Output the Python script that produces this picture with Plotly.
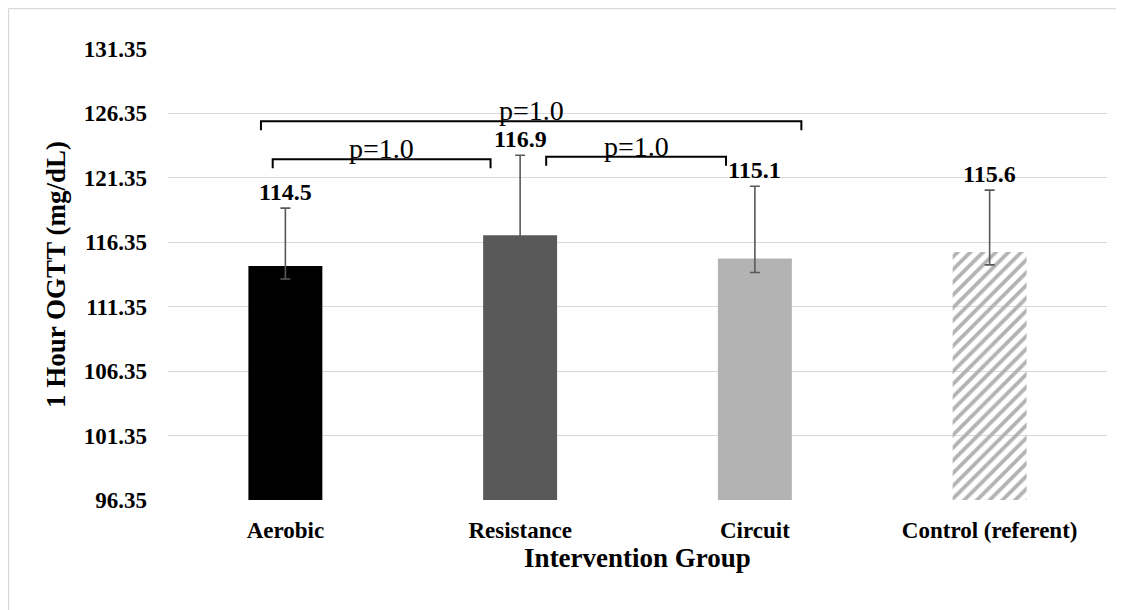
import plotly.graph_objects as go

# ---- data ----
categories = ["Aerobic", "Resistance", "Circuit", "Control (referent)"]
means = [114.5, 116.9, 115.1, 115.6]
err_plus = [4.5, 6.2, 5.6, 4.8]
err_minus = [1.0, 1.0, 1.1, 1.0]
value_labels = ["114.5", "116.9", "115.1", "115.6"]
y_ticks = [96.35, 101.35, 106.35, 111.35, 116.35, 121.35, 126.35, 131.35]
bracket_pairs = [("Aerobic", "Resistance"), ("Aerobic", "Circuit"), ("Resistance", "Circuit")]
bracket_levels = [122.8, 125.75, 122.98]
bracket_texts = ["p=1.0", "p=1.0", "p=1.0"]

# ---- style ----
bar_colors = ["#000000", "#595959", "#b3b3b3", "#b3b3b3"]
pattern_shapes = ["", "", "", "/"]
# bracket end offsets (category units) relative to the paired categories
bracket_offsets = [(-0.054, -0.126), (-0.104, 0.198), (0.111, -0.123)]
tick_drop = 0.7
FONT = "Times New Roman, Liberation Serif, serif"

fig = go.Figure()
fig.add_trace(go.Bar(
    x=categories, y=[m - y_ticks[0] for m in means], base=y_ticks[0],
    marker=dict(color=bar_colors, line=dict(width=0),
                pattern=dict(shape=pattern_shapes, fgcolor="#b3b3b3", bgcolor="#ffffff",
                             size=9, solidity=0.42, fillmode="replace")),
    error_y=dict(type="data", symmetric=False, array=err_plus, arrayminus=err_minus,
                 color="#595959", thickness=1.6, width=5),
    hoverinfo="skip", showlegend=False,
))

annotations = []
for c, m, e, t in zip(categories, means, err_plus, value_labels):
    annotations.append(dict(x=c, y=m + e, xref="x", yref="y", text=f"<b>{t}</b>",
                            showarrow=False, yanchor="bottom", yshift=1,
                            font=dict(family=FONT, size=24, color="#000000")))

shapes = []
for (a, b), lvl, txt, (oa, ob) in zip(bracket_pairs, bracket_levels, bracket_texts, bracket_offsets):
    x0 = categories.index(a) + oa
    x1 = categories.index(b) + ob
    shapes.append(dict(type="path", xref="x", yref="y",
                       path=f"M {x0},{lvl - tick_drop} L {x0},{lvl} L {x1},{lvl} L {x1},{lvl - tick_drop}",
                       line=dict(color="#000000", width=2)))
    annotations.append(dict(x=(x0 + x1) / 2, y=lvl, xref="x", yref="y", text=txt,
                            showarrow=False, yanchor="bottom", yshift=-7,
                            font=dict(family=FONT, size=28, color="#000000")))

# outer chart border (top and left edges of the chart area)
shapes.append(dict(type="line", xref="paper", yref="paper", x0=-0.1699, x1=1.03, y0=1.0898, y1=1.0898,
                   line=dict(color="#d9d9d9", width=1.5)))
shapes.append(dict(type="line", xref="paper", yref="paper", x0=-0.1699, x1=-0.1699, y0=1.0898, y1=-0.27,
                   line=dict(color="#d9d9d9", width=1.5)))

fig.update_layout(
    width=1124, height=610,
    margin=dict(l=160, r=25, t=41, b=118),
    paper_bgcolor="#ffffff", plot_bgcolor="#ffffff",
    bargap=0.685,
    font=dict(family=FONT, color="#000000"),
    annotations=annotations,
    shapes=shapes,
    xaxis=dict(
        type="category", range=[-0.5, 3.5],
        showgrid=False, showline=False, zeroline=False,
        tickfont=dict(family=FONT, size=23, color="#000000", weight="bold"),
        ticks="", ticklabelstandoff=14,
        title=dict(text="<b>Intervention Group</b>", font=dict(family=FONT, size=27, color="#000000"),
                   standoff=3),
    ),
    yaxis=dict(
        range=[y_ticks[0], y_ticks[-1]], tickvals=y_ticks, ticktext=[f"{v:.2f}" for v in y_ticks],
        showgrid=True, gridcolor="#d9d9d9", gridwidth=1.2,
        showline=False, zeroline=False, ticks="", ticklabelstandoff=20,
        tickfont=dict(family=FONT, size=23, color="#000000", weight="bold"),
        title=dict(text="<b>1 Hour OGTT (mg/dL)</b>", font=dict(family=FONT, size=27, color="#000000"),
                   standoff=10),
    ),
)

fig.write_html("out.html")
